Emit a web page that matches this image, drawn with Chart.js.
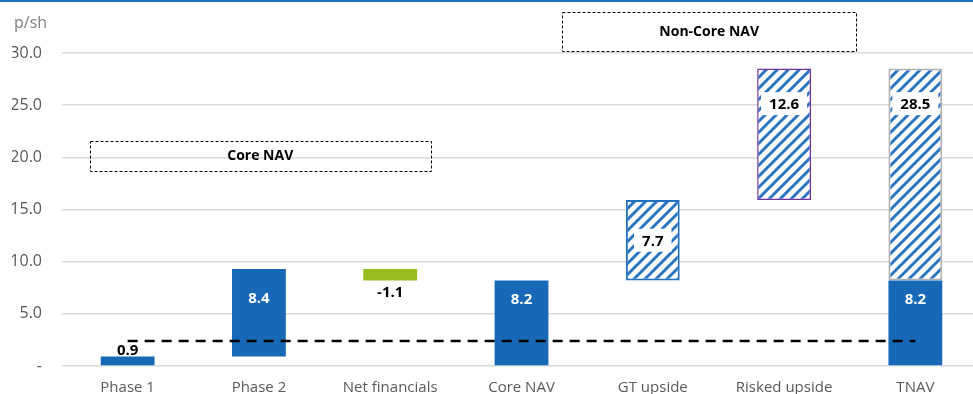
<!DOCTYPE html>
<html>
<head>
<meta charset="utf-8">
<script src="https://cdn.jsdelivr.net/npm/chart.js@4/dist/chart.umd.min.js"></script>
<style>
  html, body { margin: 0; padding: 0; background: #fff; overflow: hidden; }
  #wrap { width: 973px; height: 394px; overflow: hidden; position: relative; }
  canvas { position: absolute; left: 0; top: 0; }
</style>
</head>
<body>
<div id="wrap"><canvas id="grafico" width="990" height="410"></canvas></div>
<script>
// dados do gráfico
const categorias = ['Phase 1', 'Phase 2', 'Net financials', 'Core NAV', 'GT upside', 'Risked upside', 'TNAV']
const barrasSolidas = [[0, 0.9], [0.9, 9.3], null, [0, 8.2], null, null, [0, 8.2]]
const barrasNegativas = [null, null, [8.2, 9.3], null, null, null, null]
const barrasUpside = [null, null, null, null, [8.2, 15.9], [15.9, 28.5], [8.2, 28.5]]
const linhaReferencia = [2.4, 2.4, 2.4, 2.4, 2.4, 2.4, 2.4]
const rotulosSolidos = ['0.9', '8.4', null, '8.2', null, null, '8.2']
const rotulosNegativos = [null, null, '-1.1', null, null, null, null]
const rotulosUpside = [null, null, null, null, '7.7', '12.6', '28.5']
const ticksY = [0, 5, 10, 15, 20, 25, 30]
const caixas = [
    { texto: 'Core NAV', x0: -0.29, x1: 2.31, y0: 18.7, y1: 21.6 },
    { texto: 'Non-Core NAV', x0: 3.31, x1: 5.55, y0: 30.2, y1: 33.9 }
]

const AZUL = '#1769b8'
const VERDE = '#96bd1e'
const FONTE = '"Open Sans", "Liberation Sans", sans-serif'

// padrão listrado (hachurado)
function criarHachura() {
    const s = 11
    const c = document.createElement('canvas')
    c.width = s
    c.height = s
    const g = c.getContext('2d')
    g.fillStyle = '#fff'
    g.fillRect(0, 0, s, s)
    g.strokeStyle = '#2a74c0'
    g.lineWidth = 3
    g.beginPath()
    g.moveTo(0, s); g.lineTo(s, 0)
    g.moveTo(-2, 2); g.lineTo(2, -2)
    g.moveTo(s - 2, s + 2); g.lineTo(s + 2, s - 2)
    g.stroke()
    return g.createPattern(c, 'repeat')
}

const pluginExtras = {
    id: 'extras',
    beforeDraw(chart) {
        const ctx = chart.ctx
        ctx.save()
        ctx.fillStyle = '#808080'
        ctx.font = '16px ' + FONTE
        ctx.textBaseline = 'middle'
        ctx.fillText('p/sh', 14, 23)
        ctx.strokeStyle = '#1f6fbf'
        ctx.lineWidth = 2
        ctx.beginPath()
        ctx.moveTo(0, 1)
        ctx.lineTo(chart.width, 1)
        ctx.stroke()
        ctx.restore()
    },
    afterDatasetsDraw(chart) {
        const ctx = chart.ctx
        const x = chart.scales.x
        const y = chart.scales.y
        ctx.save()

        // caixas tracejadas
        caixas.forEach(cx => {
            const l = x.getPixelForValue(cx.x0), r = x.getPixelForValue(cx.x1)
            const t = y.getPixelForValue(cx.y1), b = y.getPixelForValue(cx.y0)
            ctx.setLineDash([3, 2])
            ctx.strokeStyle = '#000'
            ctx.lineWidth = 1
            ctx.strokeRect(Math.round(l) + 0.5, Math.round(t) + 0.5, Math.round(r - l), Math.round(b - t))
            ctx.setLineDash([])
            ctx.fillStyle = '#000'
            ctx.font = 'bold 14px ' + FONTE
            ctx.textAlign = 'center'
            ctx.textBaseline = 'middle'
            ctx.fillText(cx.texto, (l + r) / 2, (t + b) / 2)
        })

        // rótulos das barras
        const desenhar = (idx, rotulos, modo) => {
            const meta = chart.getDatasetMeta(idx)
            rotulos.forEach((txt, j) => {
                if (!txt) return
                const el = meta.data[j]
                const topo = Math.min(el.y, el.base)
                const base = Math.max(el.y, el.base)
                ctx.font = 'bold 15px ' + FONTE
                ctx.textAlign = 'center'
                ctx.textBaseline = 'middle'
                let py
                let cor = '#000'
                let caixa = false
                if (modo === 'solido') {
                    if (j === 0) { py = topo - 7 } else { py = topo + 18; cor = '#fff' }
                    if (j === 1) py = topo + 29
                } else if (modo === 'abaixo') {
                    py = base + 11
                } else {
                    caixa = true
                    py = j === 4 ? (topo + base) / 2 : topo + 35
                }
                if (caixa) {
                    const w = Math.min(ctx.measureText(txt).width + 16, el.width - 4)
                    ctx.fillStyle = '#fff'
                    ctx.fillRect(el.x - w / 2, py - 11.5, w, 23)
                }
                ctx.fillStyle = cor
                ctx.fillText(txt, el.x, py + 1)
            })
        }
        desenhar(0, rotulosSolidos, 'solido')
        desenhar(1, rotulosNegativos, 'abaixo')
        desenhar(2, rotulosUpside, 'caixa')
        ctx.restore()
    }
}

const hachura = criarHachura()
const ctx = document.getElementById('grafico').getContext('2d')

const chart = new Chart(ctx, {
    type: 'bar',
    data: {
        labels: categorias,
        datasets: [
            {
                data: barrasSolidas,
                backgroundColor: AZUL,
                grouped: false,
                order: 2
            },
            {
                data: barrasNegativas,
                backgroundColor: VERDE,
                grouped: false,
                order: 2
            },
            {
                data: barrasUpside,
                backgroundColor: hachura,
                borderColor: ['#000', '#000', '#000', '#000', '#1f6fbf', '#7030a0', '#b0b0b0'],
                borderWidth: [0, 0, 0, 0, 2, 1.5, 2],
                borderSkipped: false,
                grouped: false,
                order: 2
            },
            {
                type: 'line',
                data: linhaReferencia,
                borderColor: '#000',
                borderWidth: 2.5,
                borderDash: [10, 7],
                pointRadius: 0,
                fill: false,
                order: 0
            }
        ]
    },
    options: {
        responsive: false,
        animation: false,
        devicePixelRatio: 1,
        barPercentage: 0.41,
        categoryPercentage: 1,
        layout: { padding: { left: 12, right: 9, top: 6, bottom: 13 } },
        plugins: {
            legend: { display: false },
            tooltip: { enabled: false }
        },
        scales: {
            x: {
                grid: { display: false },
                border: { display: false },
                afterFit: s => {
                    s.paddingLeft = 0
                    s.paddingRight = 0
                    s.height = 31
                },
                ticks: {
                    color: '#595959',
                    font: { family: FONTE, size: 15 },
                    padding: 5,
                    maxRotation: 0
                }
            },
            y: {
                min: 0,
                max: 34.5,
                border: { display: false },
                grid: { color: '#d9d9d9', lineWidth: 1.5, drawTicks: false },
                afterBuildTicks: axis => {
                    axis.ticks = ticksY.map(v => ({ value: v }))
                },
                afterFit: s => {
                    s.paddingTop = 0
                    s.paddingBottom = 0
                    s.width = 50
                },
                ticks: {
                    color: '#595959',
                    font: { family: FONTE, size: 16 },
                    padding: 20,
                    callback: v => v === 0 ? '-' : v.toFixed(1)
                }
            }
        }
    },
    plugins: [pluginExtras]
})
</script>
</body>
</html>
